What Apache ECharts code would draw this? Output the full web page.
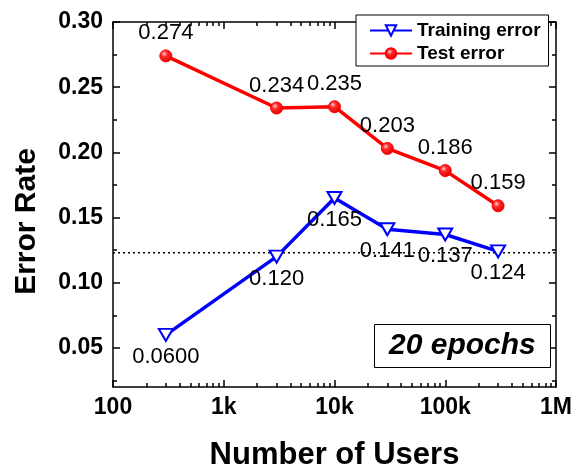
<!DOCTYPE html>
<html><head><meta charset="utf-8">
<script src="https://cdn.jsdelivr.net/npm/echarts@6/dist/echarts.min.js"></script>
<style>html,body{margin:0;padding:0;background:#fff}#c{width:574px;height:464px}</style>
</head><body><div id="c"></div>
<script>
// ---- data ----
const users = [300, 3000, 10000, 30000, 100000, 300000];
const trainingError = [0.0600, 0.120, 0.165, 0.141, 0.137, 0.124];
const testError = [0.274, 0.234, 0.235, 0.203, 0.186, 0.159];
const referenceLevel = 0.123;
const xRange = [100, 1000000];
const xTickValues = [100, 1000, 10000, 100000, 1000000];
const xTickLabels = ['100', '1k', '10k', '100k', '1M'];
const yTickValues = [0.05, 0.10, 0.15, 0.20, 0.25, 0.30];
const yMinorTicks = [0.025, 0.075, 0.125, 0.175, 0.225, 0.275];
const seriesNames = ['Training error', 'Test error'];
const annotation = '20 epochs';

const xMinorTicks = [];
[100, 1000, 10000, 100000].forEach(d => { for (let k = 2; k <= 9; k++) xMinorTicks.push(d * k); });

const FONT = '"Liberation Sans", Arial, Helvetica, sans-serif';
const AX = '#000';

function xLabel(v) {
  const i = xTickValues.findIndex(t => Math.abs(Math.log10(t) - Math.log10(v)) < 1e-6);
  return i >= 0 ? xTickLabels[i] : '';
}

function xAxisDef(pos, ticks, len, main) {
  return {
    type: 'log', logBase: 10, min: xRange[0], max: xRange[1], position: pos,
    axisLine: { show: main, lineStyle: { color: AX, width: 1.5 } },
    axisTick: { show: true, inside: true, length: len, customValues: ticks, lineStyle: { color: AX, width: 1.5 } },
    axisLabel: (main && pos === 'bottom') ? {
      show: true, customValues: xTickValues, formatter: xLabel, margin: 9,
      fontSize: 23, fontWeight: 'bold', color: '#000', fontFamily: FONT
    } : { show: false },
    splitLine: { show: false }, minorTick: { show: false },
    name: (main && pos === 'bottom') ? 'Number of Users' : '',
    nameLocation: 'middle', nameGap: 53,
    nameTextStyle: { fontSize: 31, fontWeight: 'bold', color: '#000', fontFamily: FONT }
  };
}
function yAxisDef(pos, ticks, len, main) {
  return {
    type: 'value', min: 0.02, max: 0.30, position: pos,
    axisLine: { show: main, lineStyle: { color: AX, width: 1.5 } },
    axisTick: { show: true, inside: true, length: len, customValues: ticks, lineStyle: { color: AX, width: 1.5 } },
    axisLabel: (main && pos === 'left') ? {
      show: true, customValues: yTickValues, formatter: v => v.toFixed(2), margin: 10,
      fontSize: 23, fontWeight: 'bold', color: '#000', fontFamily: FONT
    } : { show: false },
    splitLine: { show: false },
    name: (main && pos === 'left') ? 'Error Rate' : '',
    nameLocation: 'middle', nameGap: 71,
    nameTextStyle: { fontSize: 30, fontWeight: 'bold', color: '#000', fontFamily: FONT, padding: [0, 34, 0, 0] }
  };
}

const trainingData = users.map((u, i) => [u, trainingError[i]]);
const testData = users.map((u, i) => [u, testError[i]]);
const refData = xRange.map(x => [x, referenceLevel]);
const fmt = p => Number(p.value[1]).toPrecision(3);

const chart = echarts.init(document.getElementById('c'), null, { renderer: 'canvas' });
chart.setOption({
  animation: false,
  backgroundColor: '#fff',
  textStyle: { fontFamily: FONT },
  grid: { left: 113, top: 22, right: 18, bottom: 77, containLabel: false, outerBoundsMode: 'none' },
  xAxis: [
    xAxisDef('bottom', xTickValues, 7, true),
    xAxisDef('bottom', xMinorTicks, 4, false),
    xAxisDef('top', xTickValues, 7, true),
    xAxisDef('top', xMinorTicks, 4, false)
  ],
  yAxis: [
    yAxisDef('left', yTickValues, 7, true),
    yAxisDef('left', yMinorTicks, 4, false),
    yAxisDef('right', yTickValues, 7, true),
    yAxisDef('right', yMinorTicks, 4, false)
  ],
  legend: {
    data: seriesNames, orient: 'vertical', left: 356, top: 15,
    padding: [6, 8, 3, 13], itemGap: 4, itemWidth: 42, itemHeight: 13,
    borderColor: '#000', borderWidth: 1, backgroundColor: '#fff', borderRadius: 0,
    textStyle: { fontSize: 19, fontWeight: 'bold', color: '#000', fontFamily: FONT }
  },
  title: {
    text: annotation, left: 374, top: 324, padding: [7, 15, 7, 15],
    borderColor: '#000', borderWidth: 1, backgroundColor: '#fff',
    textStyle: { fontSize: 30, fontWeight: 'bold', fontStyle: 'italic', color: '#000', fontFamily: FONT }
  },
  series: [
    {
      name: 'reference', type: 'line', xAxisIndex: 0, yAxisIndex: 0, data: refData,
      showSymbol: false, symbol: 'none', silent: true,
      lineStyle: { color: '#000', type: [2, 3], width: 1.5 },
      label: { show: false }, z: 1
    },
    {
      name: seriesNames[0], type: 'line', xAxisIndex: 0, yAxisIndex: 0, data: trainingData,
      symbol: 'triangle', symbolRotate: 180, symbolSize: [14, 12],
      lineStyle: { color: '#0000ff', width: 3.5 },
      itemStyle: { color: '#ffffff', borderColor: '#0000ff', borderWidth: 2 },
      label: { show: true, position: 'bottom', distance: 4, formatter: fmt, fontSize: 22, color: '#000', fontFamily: FONT },
      z: 3
    },
    {
      name: seriesNames[1], type: 'line', xAxisIndex: 0, yAxisIndex: 0, data: testData,
      symbol: 'circle', symbolSize: 12,
      lineStyle: { color: '#ff0000', width: 3.5 },
      itemStyle: {
        color: { type: 'radial', x: 0.38, y: 0.35, r: 0.65, colorStops: [
          { offset: 0, color: '#ffd0d0' }, { offset: 0.35, color: '#ff2a2a' }, { offset: 1, color: '#e00000' }] },
        borderColor: '#ff0000', borderWidth: 1
      },
      label: { show: true, position: 'top', distance: 5, formatter: fmt, fontSize: 22, color: '#000', fontFamily: FONT },
      z: 2
    }
  ]
});
</script></body></html>
